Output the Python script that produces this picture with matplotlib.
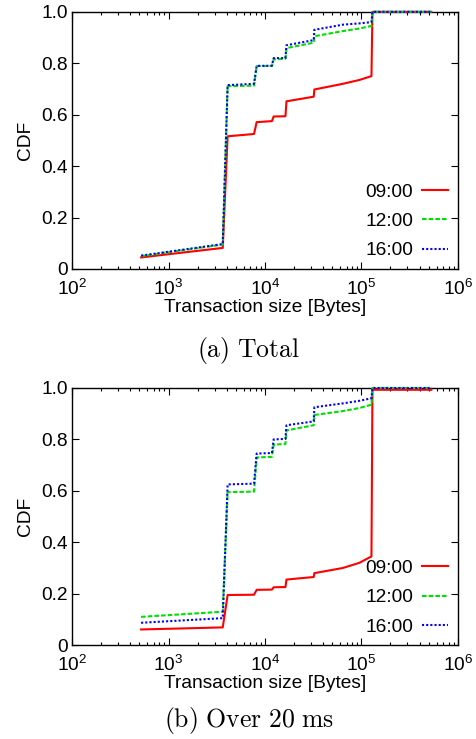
import math

import matplotlib
matplotlib.use("Agg")
import matplotlib.pyplot as plt
from matplotlib.ticker import FixedLocator, FuncFormatter, LogLocator, NullFormatter

plt.rcParams.update({
    "font.family": ["Liberation Sans", "DejaVu Sans"],
    "mathtext.fontset": "custom",
    "mathtext.rm": "Liberation Sans",
    "mathtext.it": "Liberation Sans:italic",
    "font.size": 13.8,
    "axes.linewidth": 1.0,
})

# transaction size breakpoints [Bytes]
SIZES = [520, 3650, 4100, 7700, 8200, 11800, 12300, 16300, 16700,
         32000, 32500, 64000, 95000, 127000, 130000, 530000]
SERIES = ["09:00", "12:00", "16:00"]

# (a) Total
TOTAL = {
    "09:00": [0.045, 0.082, 0.516, 0.525, 0.571, 0.575, 0.593, 0.594, 0.652,
              0.670, 0.698, 0.720, 0.735, 0.750, 1.0, 1.0],
    "12:00": [0.050, 0.095, 0.711, 0.713, 0.789, 0.790, 0.815, 0.818, 0.859,
              0.880, 0.905, 0.925, 0.935, 0.945, 1.0, 1.0],
    "16:00": [0.052, 0.097, 0.715, 0.720, 0.790, 0.790, 0.820, 0.820, 0.870,
              0.890, 0.930, 0.950, 0.955, 0.960, 1.0, 1.0],
}

# (b) Over 20 ms
OVER20 = {
    "09:00": [0.061, 0.069, 0.195, 0.196, 0.215, 0.216, 0.225, 0.226, 0.255,
              0.265, 0.280, 0.300, 0.320, 0.345, 0.993, 0.993],
    "12:00": [0.110, 0.130, 0.595, 0.597, 0.730, 0.732, 0.780, 0.782, 0.835,
              0.855, 0.895, 0.910, 0.922, 0.935, 1.0, 1.0],
    "16:00": [0.087, 0.105, 0.625, 0.628, 0.745, 0.747, 0.800, 0.802, 0.855,
              0.870, 0.925, 0.940, 0.950, 0.960, 1.0, 1.0],
}

STYLES = {
    "09:00": dict(color="#FF0000", linestyle="-"),
    "12:00": dict(color="#00E000", linestyle=(0, (2.2, 1.0))),
    "16:00": dict(color="#0000FF", linestyle=(0, (1.0, 1.0))),
}


def draw_panel(ax, data):
    for name in SERIES:
        ax.plot(SIZES, data[name], label=name, linewidth=1.5, clip_on=False,
                zorder=3, **STYLES[name])
    ax.set_xscale("log")
    ax.set_xlim(1e2, 1e6)
    ax.set_ylim(0, 1.0)
    ax.xaxis.set_major_locator(FixedLocator([1e2, 1e3, 1e4, 1e5, 1e6]))
    ax.xaxis.set_minor_locator(LogLocator(base=10, subs=range(2, 10)))
    ax.xaxis.set_minor_formatter(NullFormatter())
    ax.xaxis.set_major_formatter(FuncFormatter(lambda v, p: r"$10^{%d}$" % round(math.log10(v))))
    ax.set_yticks([0, 0.2, 0.4, 0.6, 0.8, 1.0])
    ax.yaxis.set_major_formatter(FuncFormatter(lambda v, p: "0" if v == 0 else "%.1f" % v))
    ax.tick_params(which="both", direction="in", top=True, right=True, width=0.8)
    ax.tick_params(which="major", length=5)
    ax.tick_params(which="minor", length=2.5)
    ax.tick_params(axis="x", which="major", pad=7)
    ax.tick_params(axis="y", which="major", pad=3)
    ax.set_xlabel("Transaction size [Bytes]", labelpad=0)
    ax.set_ylabel("CDF", labelpad=5)
    ax.legend(loc="lower right", frameon=False, markerfirst=False,
              handlelength=1.4, handletextpad=0.45, labelspacing=0.62,
              borderaxespad=0.1, fontsize=13.8)


fig = plt.figure(figsize=(4.77, 7.39), dpi=100)
ax1 = fig.add_axes([0.151, 0.636, 0.809, 0.348])
ax2 = fig.add_axes([0.151, 0.127, 0.809, 0.348])
draw_panel(ax1, TOTAL)
draw_panel(ax2, OVER20)

fig.text(0.522, 0.526, r"$\mathrm{(a)\ Total}$", math_fontfamily="cm",
         ha="center", va="center", fontsize=18.5)
fig.text(0.522, 0.025, r"$\mathrm{(b)\ Over\ 20\ ms}$", math_fontfamily="cm",
         ha="center", va="center", fontsize=18.5)

fig.savefig("out.png", dpi=100)
